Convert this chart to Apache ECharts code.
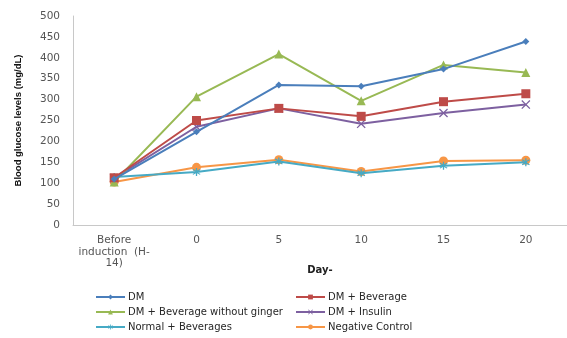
<!DOCTYPE html>
<html><head><meta charset="utf-8">
<script src="https://cdn.jsdelivr.net/npm/echarts@6/dist/echarts.min.js"></script>
<style>html,body{margin:0;padding:0;background:#fff}#c{width:567px;height:338px}</style>
</head><body><div id="c"></div>
<script>
const categories = ["Before\ninduction  (H-\n14)", "0", "5", "10", "15", "20"];
const yTicks = [0, 50, 100, 150, 200, 250, 300, 350, 400, 450, 500];
const seriesNames = ["DM", "DM + Beverage", "DM + Beverage without ginger", "DM + Insulin", "Normal + Beverages", "Negative Control"];
const dm = [110, 223, 335, 332, 373, 439];
const dmBeverage = [113, 250, 279, 260, 295, 314];
const dmNoGinger = [103, 307, 409, 297, 383, 365];
const dmInsulin = [112, 235, 279, 242, 268, 288];
const normalBeverages = [115, 127, 152, 124, 142, 150];
const negativeControl = [103, 138, 156, 128, 153, 155];

const colors = ["#4a7ebb", "#be4b48", "#98b954", "#7d60a0", "#46aac5", "#f79646"];
const xSym = 'path://M0,1 L1,0 L5,4 L9,0 L10,1 L6,5 L10,9 L9,10 L5,6 L1,10 L0,9 L4,5 Z';
const starSym = 'path://M4.3,0 L5.7,0 L5.7,3.3 L8.5,1.3 L9.3,2.5 L6.3,4.3 L6.3,5.7 L9.3,7.5 L8.5,8.7 L5.7,6.7 L5.7,10 L4.3,10 L4.3,6.7 L1.5,8.7 L0.7,7.5 L3.7,5.7 L3.7,4.3 L0.7,2.5 L1.5,1.3 L4.3,3.3 Z';
const symbols = ["diamond", "rect", "triangle", xSym, starSym, "circle"];
const sizes = [7, 9, 9, 9, 8, 9];
const data = [dm, dmBeverage, dmNoGinger, dmInsulin, normalBeverages, negativeControl];

const chart = echarts.init(document.getElementById('c'));
const legendText = {fontFamily: 'DejaVu Sans', fontSize: 10, color: '#262626', padding: [0, 0, 0, -2]};
const legendBase = {orient: 'vertical', top: 292, height: 46, padding: 0, itemGap: 5, itemWidth: 29, itemHeight: 6, textStyle: legendText};
chart.setOption({
  animation: false,
  grid: {left: 73, right: 0, top: 16, bottom: 113},
  xAxis: {
    type: 'category', data: categories, boundaryGap: true,
    axisLine: {lineStyle: {color: '#c8c8c8', width: 1}},
    axisTick: {show: false},
    axisLabel: {fontFamily: 'DejaVu Sans', fontSize: 10.5, color: '#555', margin: 10, lineHeight: 11.5, interval: 0},
    name: 'Day-', nameLocation: 'middle', nameGap: 40, nameMoveOverlap: false,
    nameTextStyle: {fontFamily: 'DejaVu Sans', fontSize: 10, fontWeight: 'bold', color: '#222'}
  },
  yAxis: {
    type: 'value', min: 0, max: 500, interval: 50,
    axisLine: {show: true, lineStyle: {color: '#c8c8c8', width: 1}},
    axisTick: {show: false},
    splitLine: {show: false},
    axisLabel: {fontFamily: 'DejaVu Sans', fontSize: 10.5, color: '#555', margin: 13,
      formatter: v => yTicks.includes(v) ? String(v) : ''},
    name: 'Blood glucose levels (mg/dL)', nameLocation: 'middle', nameGap: 50, nameMoveOverlap: false,
    nameTextStyle: {fontFamily: 'Liberation Sans Narrow, Liberation Sans', fontSize: 9.5, fontWeight: 'bold', color: '#111'}
  },
  legend: [
    Object.assign({left: 95, data: [seriesNames[0], seriesNames[2], seriesNames[4]]}, legendBase),
    Object.assign({left: 295, data: [seriesNames[1], seriesNames[3], seriesNames[5]]}, legendBase)
  ],
  series: seriesNames.map((n, i) => ({
    name: n, type: 'line', data: data[i],
    symbol: symbols[i], symbolSize: sizes[i],
    lineStyle: {color: colors[i], width: 2},
    itemStyle: {color: colors[i]},
    z: 10 - i
  }))
});
</script></body></html>
